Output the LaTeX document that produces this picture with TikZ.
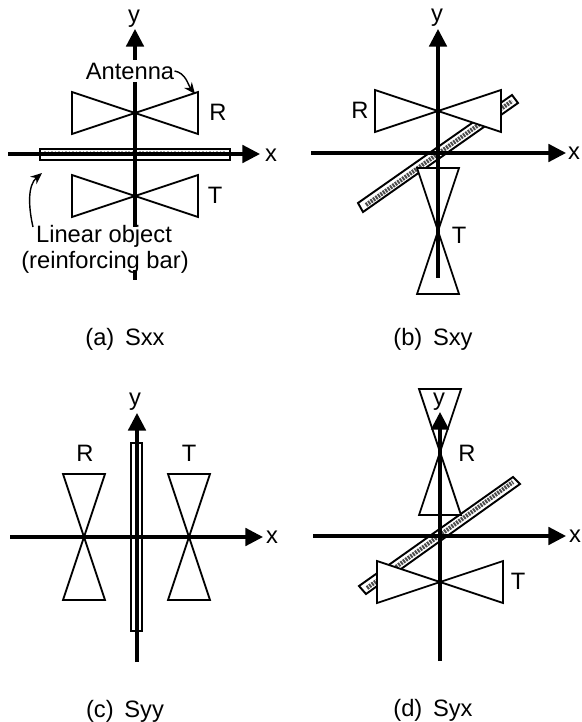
\documentclass[tikz,border=0pt]{standalone}
\usepackage{fontspec}
\setmainfont{Liberation Sans}
\usetikzlibrary{arrows.meta}
\tikzset{
  axisline/.style={line width=1.8pt,-{Triangle[length=10pt,width=10pt]}},
  axisrest/.style={line width=1.8pt},
  antenna/.style={line width=1pt,fill=white,line join=miter},
  barbox/.style={line width=1.1pt,fill=white},
  barfill/.style={line width=2.4pt,black!70,dash pattern=on 1.1pt off 0.6pt},
  barfaint/.style={line width=1pt,black!35,dash pattern=on 1pt off 1pt},
  leader/.style={line width=0.8pt,-{Stealth[length=6.5pt,width=5.5pt]}}
}
\begin{document}
\begin{tikzpicture}[x=0.02cm,y=-0.02cm,every node/.style={font=\fontsize{13.5}{15}\selectfont,inner sep=0pt}]
\useasboundingbox (0,0) rectangle (581,722);
% bars
\draw[barbox] (40,149) rectangle (230,160);
\draw[barbox] (131,443) rectangle (142,631);
\draw[barbox] (358,203)--(363,212)--(518,103)--(512,95)--cycle;
\draw[barbox] (359,586)--(366,594)--(520,484)--(513,477)--cycle;
\draw[barfaint] (44,151.5)--(226,151.5);
\draw[barfill] (366,205)--(512,101);
\draw[barfill] (367,588)--(513,482);
% antennas
\foreach \x/\y in {135/113,135/196,438/111,440/582}{
  \draw[antenna] (\x-63,\y-21)--(\x+63,\y+21)--(\x+63,\y-21)--(\x-63,\y+21)--cycle;}
\foreach \x/\y in {438/231,440/452,84/537,189/537}{
  \draw[antenna] (\x-21,\y-63)--(\x+21,\y+63)--(\x-21,\y+63)--(\x+21,\y-63)--cycle;}
% axes
\foreach \i/\xa/\xb/\yy in {a/8/260/154,b/311/566/153,c/10/263/537,d/313/566/536}{
  \coordinate (xs\i) at (\xa,\yy);
  \coordinate (xe\i) at (\xb,\yy);
  \draw[axisline] (xs\i)--(xe\i);}
\foreach \i/\xx/\ya/\yb in {b/438/278/29,c/137/662/413,d/440/661/412}{
  \coordinate (ys\i) at (\xx,\ya);
  \coordinate (ye\i) at (\xx,\yb);
  \draw[axisline] (ys\i)--(ye\i);}
\coordinate (ysa) at (135,60);
\coordinate (yea) at (135,29);
\draw[axisline] (ysa)--(yea);
\coordinate (yma) at (135,82);
\coordinate (ymb) at (135,227);
\coordinate (ymc) at (135,270);
\coordinate (ymd) at (135,280);
\draw[axisrest] (yma)--(ymb);
\draw[axisrest] (ymc)--(ymd);
% labels
\foreach \i/\xx/\yy in {a/271/155,b/574/153,c/272/537,d/575/536}{\node (xlab\i) at (\xx,\yy) {x};}
\foreach \i/\xx/\yy in {a/134/19,b/437/18,c/135/402,d/439/402}{\node (ylab\i) at (\xx,\yy) {y};}
\foreach \i/\xx/\yy in {a/218/112,b/360/110,c/85/453,d/467/453}{\node (rlab\i) at (\xx,\yy) {R};}
\foreach \i/\xx/\yy in {a/215/195,b/459/235,c/189/453,d/518/581}{\node (tlab\i) at (\xx,\yy) {T};}
\node (capa) at (125,339) {(a)\hspace{0.45em}Sxx};
\node (capb) at (433,339) {(b)\hspace{0.45em}Sxy};
\node (capc) at (125,711) {(c)\hspace{0.45em}Syy};
\node (capd) at (433,710) {(d)\hspace{0.45em}Syx};
\node (ant) at (130,71) {Antenna};
\node (linobj) at (104,236) {Linear object};
\node (rebar) at (105,262) {(reinforcing bar)};
% leaders
\coordinate (anttip) at (195,94);
\coordinate (bartip) at (42,173);
\draw[leader] (ant.east) .. controls (186,73) and (188,85) .. (anttip);
\draw[leader] (33,227) .. controls (28,205) and (28,185) .. (bartip);
\end{tikzpicture}
\end{document}
